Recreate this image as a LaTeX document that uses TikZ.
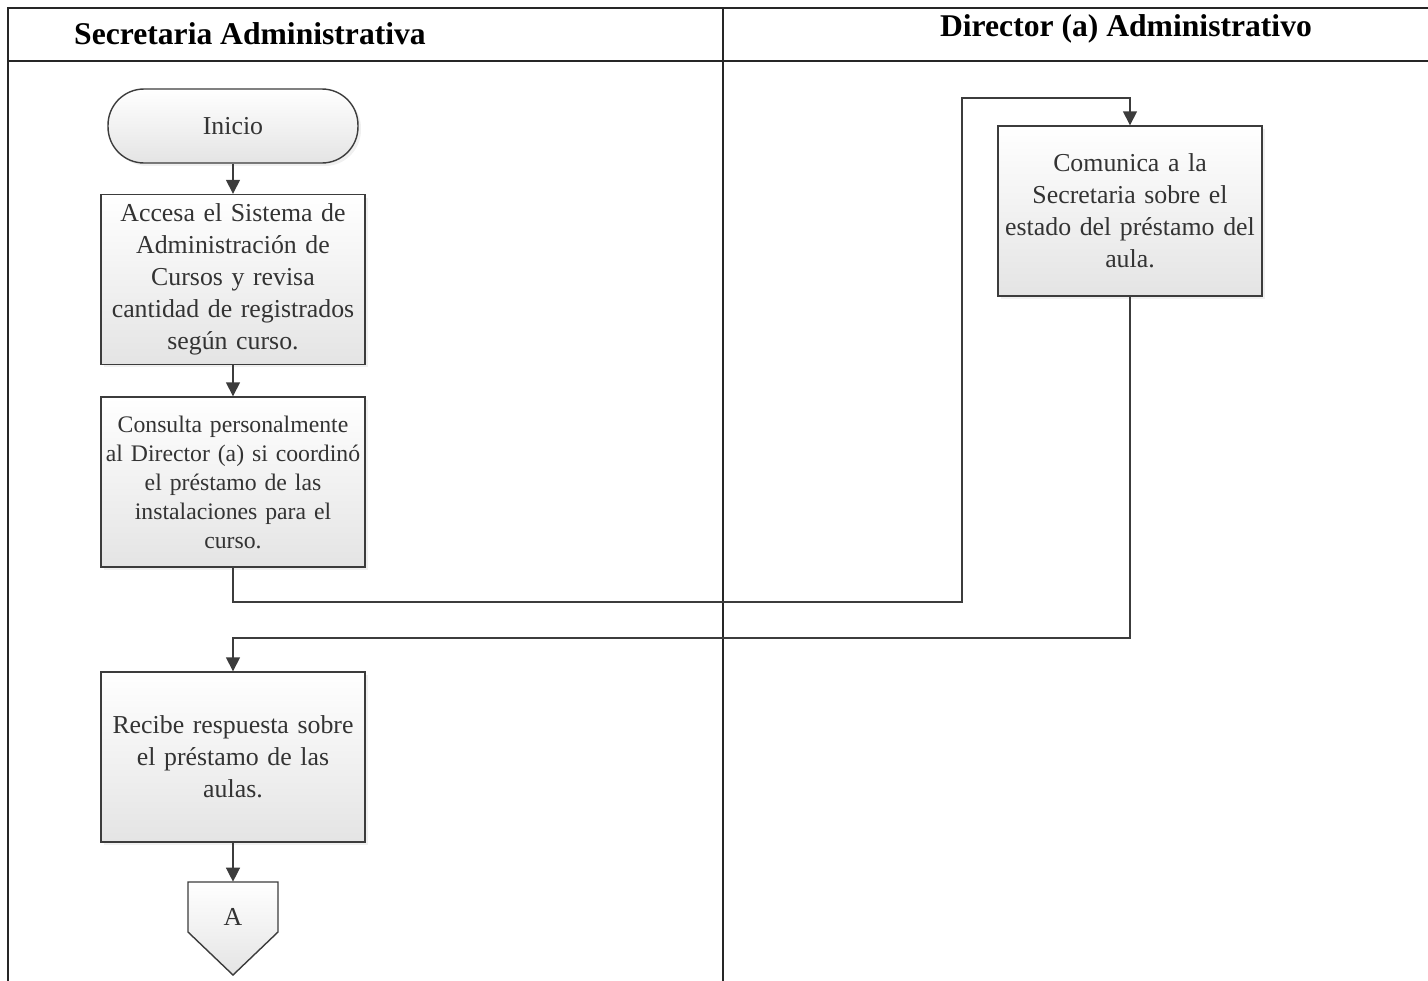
\documentclass[tikz,border=0pt]{standalone}
\usepackage{fontspec}
\setmainfont{Liberation Serif}
\usetikzlibrary{positioning, arrows.meta, shadows}
\definecolor{FlowLine}{HTML}{3C3C3C}
\definecolor{FlowText}{HTML}{333333}
\definecolor{FlowFill}{HTML}{E4E4E4}

\begin{document}
\begin{tikzpicture}[
        x=0.02cm, y=-0.02cm,
        lane/.style={line width=1.5pt, color=black!85},
        lanetitle/.style={font=\fontsize{18}{21}\selectfont\bfseries, text=black},
        process/.style={
            rectangle, draw=FlowLine, line width=0.8pt, top color=white, bottom color=FlowFill,
            minimum width=5.28cm, minimum height=3.4cm, text width=5.2cm, inner xsep=0.04cm, align=center,
            font=\fontsize{14.7}{18.2}\selectfont, text=FlowText,
            drop shadow={opacity=0.12, shadow xshift=0.06cm, shadow yshift=-0.06cm}
        },
        terminal/.style={
            rectangle, rounded corners=0.72cm, draw=FlowLine, line width=0.8pt,
            top color=white, bottom color=FlowFill, minimum width=5cm, minimum height=1.48cm,
            font=\fontsize{14.7}{18.2}\selectfont, text=FlowText,
            drop shadow={opacity=0.12, shadow xshift=0.06cm, shadow yshift=-0.06cm}
        },
        arrow/.style={line width=0.8pt, color=FlowLine, -{Triangle[length=0.28cm, width=0.28cm]}},
        connector/.style={draw=FlowLine, line width=0.8pt, top color=white, bottom color=FlowFill}
    ]
    \useasboundingbox (0,0) rectangle (1428,981);

    % Swimlanes
    \draw [lane] (8,981) -- (8,8) -- (1428,8);
    \draw [lane] (8,61) -- (1428,61);
    \draw [lane] (723,8) -- (723,981);
    \node (laneSec) [lanetitle] at (250,34) {Secretaria Administrativa};
    \node (laneDir) [lanetitle] at (1126,29) {Director (a) Administrativo};

    % Secretaria
    \node (inicio) [terminal] at (233,126) {Inicio};
    \node (accesa) [process] at (233,279.5) {
        Accesa el Sistema de\\ Administración de\\ Cursos y revisa\\ cantidad de registrados\\ según curso.
    };
    \node (consulta) [process, font=\fontsize{13.5}{16.5}\selectfont] at (233,482) {
        Consulta personalmente\\ al Director (a) si coordinó\\ el préstamo de las\\ instalaciones para el\\ curso.
    };
    \node (recibe) [process] at (233,757) {
        Recibe respuesta sobre\\ el préstamo de las\\ aulas.
    };

    % Off-page connector
    \draw [connector] (188,882) -- (278,882) -- (278,932) -- (233,975) -- (188,932) -- cycle;
    \node (conA) [minimum width=1.8cm, minimum height=1.4cm, font=\fontsize{14.7}{18.2}\selectfont, text=FlowText] at (233,917) {A};

    % Director
    \node (comunica) [process] at (1130,211) {
        Comunica a la\\ Secretaria sobre el\\ estado del préstamo del\\ aula.
    };
    \coordinate (turnUp) at (962,602);
    \coordinate (turnTop) at (962,98);
    \coordinate (turnBack) at (1130,638);

    % Flow
    \draw [arrow] (inicio.south) -- (accesa.north);
    \draw [arrow] (accesa.south) -- (consulta.north);
    \draw [arrow] (consulta.south) |- (turnUp) -- (turnTop) -| (comunica.north);
    \draw [arrow] (comunica.south) -- (turnBack) -| (recibe.north);
    \draw [arrow] (recibe.south) -- (conA.north);

\end{tikzpicture}
\end{document}
